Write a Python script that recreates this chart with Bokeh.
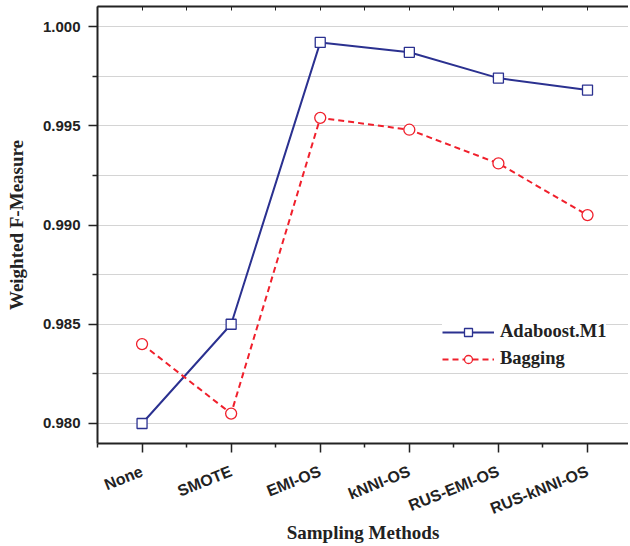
from bokeh.plotting import figure
from bokeh.models import (Range1d, FixedTicker, LinearAxis, Legend, LegendItem,
                          NumeralTickFormatter)
from bokeh.embed import file_html
from bokeh.resources import INLINE

categories = ["None", "SMOTE", "EMI-OS", "kNNI-OS", "RUS-EMI-OS", "RUS-kNNI-OS"]
adaboost = [0.9800, 0.9850, 0.9992, 0.9987, 0.9974, 0.9968]
bagging = [0.9840, 0.9805, 0.9954, 0.9948, 0.9931, 0.9905]
y_ticks = [0.980, 0.985, 0.990, 0.995, 1.000]

x = list(range(len(categories)))
x_minor = [i - 0.5 for i in range(len(categories) + 1)]
y_minor = [(a + b) / 2 for a, b in zip(y_ticks, y_ticks[1:])]

BLUE = "#2b3190"
RED = "#f0202c"
SANS = "Liberation Sans"
SERIF = "Liberation Serif"

p = figure(frame_width=531, frame_height=437, output_backend="svg",
           toolbar_location=None,
           x_range=Range1d(-0.5, 5.46), y_range=Range1d(0.978992, 1.001008),
           min_border_left=97, min_border_right=0, min_border_top=6,
           min_border_bottom=101, outline_line_color=None)

# grid
p.xgrid.grid_line_color = None
p.ygrid.grid_line_color = "#d4d4d4"
p.ygrid.grid_line_width = 1
p.ygrid.minor_grid_line_color = "#d4d4d4"
p.ygrid.minor_grid_line_width = 1

# y axis
yax = p.yaxis[0]
yax.ticker = FixedTicker(ticks=y_ticks, minor_ticks=y_minor)
yax.formatter = NumeralTickFormatter(format="0.000")
yax.axis_label = "Weighted F-Measure"
yax.axis_label_text_font = SERIF
yax.axis_label_text_font_style = "bold"
yax.axis_label_text_font_size = "19px"
yax.axis_label_text_color = "#222222"
yax.axis_label_standoff = 13
yax.major_label_text_font = SANS
yax.major_label_text_font_style = "bold"
yax.major_label_text_font_size = "15px"
yax.major_label_text_color = "#222222"
yax.major_label_standoff = 8
yax.axis_line_width = 2
yax.axis_line_color = "#222222"
yax.major_tick_line_color = "#222222"
yax.minor_tick_line_color = "#222222"
yax.major_tick_line_width = 1.5
yax.minor_tick_line_width = 1.5
yax.major_tick_in = 0
yax.major_tick_out = 9
yax.minor_tick_in = 0
yax.minor_tick_out = 5

# x axis
xax = p.xaxis[0]
xax.ticker = FixedTicker(ticks=x, minor_ticks=x_minor)
xax.major_label_overrides = {i: c for i, c in zip(x, categories)}
xax.major_label_orientation = 0.38
xax.axis_label = "Sampling Methods"
xax.axis_label_text_font = SERIF
xax.axis_label_text_font_style = "bold"
xax.axis_label_text_font_size = "19px"
xax.axis_label_text_color = "#222222"
xax.axis_label_standoff = -6
xax.major_label_text_font = SANS
xax.major_label_text_font_style = "bold"
xax.major_label_text_font_size = "16px"
xax.major_label_text_color = "#222222"
xax.major_label_standoff = 18
xax.axis_line_width = 2
xax.axis_line_color = "#222222"
xax.major_tick_line_color = "#222222"
xax.minor_tick_line_color = "#222222"
xax.major_tick_line_width = 1.5
xax.minor_tick_line_width = 1.5
xax.major_tick_in = 0
xax.major_tick_out = 9
xax.minor_tick_in = 0
xax.minor_tick_out = 4

# top axis (frame line with inward ticks, no labels)
top = LinearAxis(ticker=FixedTicker(ticks=x, minor_ticks=x_minor),
                 major_label_text_font_size="1px", major_label_text_color=None,
                 major_label_standoff=0,
                 axis_line_width=2, axis_line_color="#222222",
                 major_tick_in=4, major_tick_out=0, minor_tick_in=4, minor_tick_out=0,
                 major_tick_line_color="#222222", minor_tick_line_color="#222222")
p.add_layout(top, "above")

# data
l1 = p.line(x, adaboost, line_color=BLUE, line_width=2)
s1 = p.scatter(x, adaboost, marker="square", size=10, line_color=BLUE,
               fill_color="white", line_width=1.3)
l2 = p.line(x, bagging, line_color=RED, line_width=2, line_dash="6 4")
s2 = p.scatter(x, bagging, marker="circle", size=11, line_color=RED,
               fill_color="white", line_width=1.3)

legend = Legend(items=[LegendItem(label="Adaboost.M1", renderers=[l1, s1]),
                       LegendItem(label="Bagging", renderers=[l2, s2])],
                location=(345, 74), background_fill_color="white",
                background_fill_alpha=1.0, border_line_color=None,
                label_text_font=SERIF, label_text_font_style="bold",
                label_text_font_size="18.5px", label_text_color="#222222",
                glyph_width=52, glyph_height=20, label_standoff=6,
                spacing=6, padding=12, margin=0)
p.add_layout(legend)

open("out.html", "w").write(file_html(p, INLINE))
